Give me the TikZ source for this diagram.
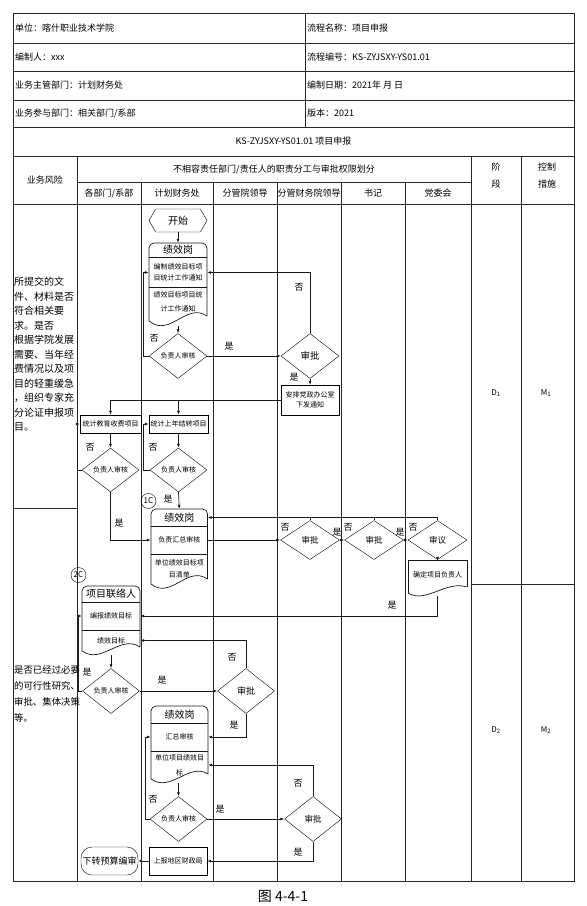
\documentclass[tikz,border=0pt]{standalone}
\usepackage{fontspec}
\setmainfont{Noto Sans CJK SC}
\usetikzlibrary{arrows.meta,shapes.geometric,shapes.symbols}
\definecolor{gridline}{gray}{0.15}
\definecolor{flowline}{gray}{0.1}
\tikzset{
  cell/.style={font=\fontsize{9}{11}\selectfont,anchor=west,inner sep=1pt},
  hcell/.style={font=\fontsize{9}{17}\selectfont,align=center,inner sep=0pt},
  lbl/.style={font=\fontsize{9}{10}\selectfont,inner sep=0pt},
  risk/.style={font=\fontsize{10}{14.5}\selectfont,align=left,anchor=north west,inner sep=0pt},
  hdr/.style={font=\fontsize{10}{12}\selectfont,align=center,inner sep=0pt},
  sect/.style={font=\fontsize{7}{12}\selectfont,align=center,inner sep=0pt},
  dec/.style={draw,diamond,aspect=1.3,inner sep=0pt,minimum width=57pt,minimum height=45pt,font=\fontsize{7}{9}\selectfont},
  proc/.style={draw,rectangle,inner sep=0pt,align=center,font=\fontsize{7}{10}\selectfont},
  term/.style={draw,signal,signal to=east and west,signal pointer angle=120,inner sep=0pt,minimum width=58pt,minimum height=23pt,font=\fontsize{10}{12}\selectfont},
  conn/.style={draw,circle,inner sep=0pt,minimum size=15pt,font=\fontsize{8}{9}\selectfont},
  grid/.style={gridline,line width=0.8pt},
  ln/.style={flowline,line width=0.7pt},
  arr/.style={ln,-{Latex[length=4pt,width=3pt]}},
}

\begin{document}
\begin{tikzpicture}[x=1pt,y=-1pt]
  \useasboundingbox (0,0) rectangle (587,906);
  % table
  \draw[grid] (13,13) rectangle (574,881);
  \foreach \yy in {43,71,100,127,156,204}
    \draw[grid] (13,\yy) -- (574,\yy);
  \draw[grid] (305,13) -- (305,127);
  \draw[grid] (77,156) -- (77,881);
  \foreach \xx in {141,213,277,341,405}
    \draw[grid] (\xx,182) -- (\xx,881);
  \draw[grid] (471,156) -- (471,881);
  \draw[grid] (521,156) -- (521,881);
  \draw[grid] (77,182) -- (471,182);
  \draw[grid] (13,508) -- (77,508);
  \draw[grid] (471,584) -- (574,584);
  \node[cell] (unit) at (14,28) {单位：喀什职业技术学院};
  \node[cell] (pname) at (306,28) {流程名称：项目申报};
  \node[cell] (author) at (14,57) {编制人：xxx};
  \node[cell] (pcode) at (306,57) {流程编号：KS-ZYJSXY-YS01.01};
  \node[cell] (dept) at (14,85.5) {业务主管部门：计划财务处};
  \node[cell] (pdate) at (306,85.5) {编制日期：2021年 月 日};
  \node[cell] (part) at (14,113.5) {业务参与部门：相关部门/系部};
  \node[cell] (ver) at (306,113.5) {版本：2021};
  \node[hcell] (title) at (293.5,141.5) {KS-ZYJSXY-YS01.01 项目申报};
  \node[hcell] (riskh) at (45,180) {业务风险};
  \node[hcell] (lanes) at (274,169) {不相容责任部门/责任人的职责分工与审批权限划分};
  \node[hcell] (lane1) at (109,193) {各部门/系部};
  \node[hcell] (lane2) at (177,193) {计划财务处};
  \node[hcell] (lane3) at (245,193) {分管院领导};
  \node[hcell] (lane4) at (309,193) {分管财务院领导};
  \node[hcell] (lane5) at (373,193) {书记};
  \node[hcell] (lane6) at (438,193) {党委会};
  \node[hcell] (stage) at (496,176) {阶\\段};
  \node[hcell] (ctrl) at (547,176) {控制\\措施};
  \node[risk] (risk1) at (14,277) {所提交的文\\件、材料是否\\符合相关要\\求。是否\\根据学院发展\\需要、当年经\\费情况以及项\\目的轻重缓急\\，组织专家充\\分论证申报项\\目。};
  \node[risk,font=\fontsize{9.4}{16}\selectfont] (risk2) at (14,665) {是否已经过必要\\的可行性研究、\\审批、集体决策\\等。};
  \node[lbl,font=\fontsize{8}{9}\selectfont] (d1) at (496,393) {D\textsubscript{1}};
  \node[lbl,font=\fontsize{8}{9}\selectfont] (m1) at (546,393) {M\textsubscript{1}};
  \node[lbl,font=\fontsize{8}{9}\selectfont] (d2) at (496,730) {D\textsubscript{2}};
  \node[lbl,font=\fontsize{8}{9}\selectfont] (m2) at (546,730) {M\textsubscript{2}};
  % stage 1
  \node[term] (start) at (178,220.5) {开始};
  \draw[ln,rounded corners=5pt] (149,321) -- (149,243) -- (207,243) -- (207,316);
  \draw[ln] (149,321) .. controls (170,338) and (186,302) .. (207,316);
  \draw[ln] (149,257) -- (207,257);
  \draw[ln] (149,287) -- (207,287);
  \node[hdr,minimum width=58pt,minimum height=14pt] (jx1-h) at (178,250) {绩效岗};
  \node[sect,minimum width=58pt,minimum height=28pt,font=\fontsize{7}{11}\selectfont] (jx1-a) at (178,272.5) {编制绩效目标项\\目统计工作通知};
  \node[sect,minimum width=58pt,font=\fontsize{7}{14}\selectfont] (jx1-b) at (178,302) {绩效目标项目统\\计工作通知};
  \coordinate (jx1-w) at (178,326);
  \draw[arr] (start.south) -- (jx1-h.north);
  \node[dec,minimum width=58pt] (chk1) at (178,356) {负责人审核};
  \draw[arr] (jx1-w) -- (chk1.north);
  \draw[arr] (chk1.west) -- ++(-5,0) |- (jx1-a.west);
  \node[lbl] at (154,338) {否};
  \node[dec,minimum width=58pt,font=\fontsize{9.5}{11}\selectfont] (apv1) at (310,356) {审批};
  \draw[arr] (chk1.east) -- (apv1.west);
  \node[lbl] at (229,346) {是};
  \draw[arr] (apv1.north) |- (jx1-a.east);
  \node[lbl] at (299,287) {否};
  \node[proc,minimum width=58pt,minimum height=30pt] (notice) at (310,400) {安排党政办公室\\下发通知};
  \draw[arr] (apv1.south) -- (notice.north);
  \node[lbl] at (294,377) {是};
  \node[proc,minimum width=61pt,minimum height=18pt] (fee) at (110.5,424) {统计教育收费项目};
  \node[proc,minimum width=59pt,minimum height=18pt] (carry) at (178.5,424) {统计上年结转项目};
  \coordinate (fork) at (carry.north |- notice.west);
  \draw[arr] (notice.west) -| (fee.north);
  \draw[arr] (fork) -- (carry.north);
  \node[dec,minimum height=44pt] (chk2) at (110.5,470) {负责人审核};
  \node[dec,minimum height=44pt] (chk3) at (178.5,470) {负责人审核};
  \draw[arr] (fee.south) -- (chk2.north);
  \draw[arr] (carry.south) -- (chk3.north);
  \draw[arr] (chk2.west) -- ++(-4,0) |- (fee.west);
  \node[lbl] at (90,447) {否};
  \draw[arr] (chk3.west) -- ++(-6,0) |- (carry.west);
  \node[lbl] at (153,447) {否};
  \node[conn] (c1) at (148.5,501) {1C};
  \draw[ln,rounded corners=5pt] (151,584) -- (151,509) -- (207.5,509) -- (207.5,579);
  \draw[ln] (151,584) .. controls (171,600) and (187,565) .. (207.5,579);
  \draw[ln] (151,526) -- (207.5,526);
  \draw[ln] (151,554) -- (207.5,554);
  \node[hdr,minimum width=56.5pt,minimum height=17pt] (jx2-h) at (179.25,517.5) {绩效岗};
  \node[sect,minimum width=56.5pt,minimum height=28pt] (jx2-a) at (179.25,540) {负责汇总审核};
  \node[sect,minimum width=56.5pt] (jx2-b) at (179.25,569) {单位绩效目标项\\目清单};
  \draw[arr] (chk3.south) -- (jx2-h.north);
  \node[lbl] at (168,499) {是};
  \draw[arr] (chk2.south) |- (jx2-a.west);
  \node[lbl] at (119,523) {是};
  \node[dec,minimum width=59pt,minimum height=39pt,font=\fontsize{8.5}{10}\selectfont] (apv2) at (310,540) {审批};
  \node[dec,minimum width=59pt,minimum height=39pt,font=\fontsize{8.5}{10}\selectfont] (apv3) at (374,540) {审批};
  \node[dec,minimum width=59pt,minimum height=39pt,font=\fontsize{8.5}{10}\selectfont] (meet) at (437.5,540) {审议};
  \draw[arr] (jx2-a.east) -- (apv2.west);
  \draw[arr] (apv2.east) -- (apv3.west);
  \draw[arr] (apv3.east) -- (meet.west);
  \draw[arr] (meet.north) |- (jx2-h.east);
  \draw[ln] (apv2.north) -- (apv2.north |- jx2-h.east);
  \draw[ln] (apv3.north) -- (apv3.north |- jx2-h.east);
  \node[lbl] at (285,527) {否};
  \node[lbl] at (348,527) {否};
  \node[lbl] at (413,527) {否};
  \node[lbl] at (337,532) {是};
  \node[lbl] at (400,532) {是};
  \draw[ln] (408,593) -- (408,560) -- (467,560) -- (467,587);
  \draw[ln] (408,593) .. controls (426,604) and (446,580) .. (467,587);
  \node[sect,minimum width=59pt,minimum height=28pt] (lead) at (437.5,575) {确定项目负责人};
  \draw[arr] (meet.south) -- (lead.north);
  \coordinate (lead-w) at (437.5,596);
  % stage 2
  \node[conn] (c2) at (78.5,575) {2C};
  \draw[ln,rounded corners=5pt] (82,651) -- (82,586) -- (140,586) -- (140,647);
  \draw[ln] (82,651) .. controls (102,665) and (120,634) .. (140,647);
  \draw[ln] (82,602) -- (140,602);
  \draw[ln] (82,630) -- (140,630);
  \node[hdr,minimum width=58pt,minimum height=16pt] (xm1-h) at (111,594) {项目联络人};
  \node[sect,minimum width=58pt,minimum height=28pt] (xm1-a) at (111,616) {编报绩效目标};
  \node[sect,minimum width=58pt,minimum height=21pt] (xm1-b) at (111,640.5) {绩效目标};
  \draw[arr] (lead-w) |- (xm1-a.east);
  \node[lbl] at (392,605) {是};
  \coordinate (xm1-w) at (111,655);
  \node[dec] (chk4) at (111,691) {负责人审核};
  \draw[arr] (xm1-w) -- (chk4.north);
  \draw[arr] (chk4.west) -- ++(-4,0) |- (xm1-a.west);
  \node[lbl] at (87,672) {是};
  \node[dec,font=\fontsize{9}{11}\selectfont] (apv4) at (246,691) {审批};
  \draw[arr] (chk4.east) -- (apv4.west);
  \node[lbl] at (162,680) {是};
  \draw[arr] (apv4.north) |- (xm1-b.east);
  \node[lbl] at (232,657) {否};
  \draw[ln,rounded corners=5pt] (151,779) -- (151,706) -- (208,706) -- (208,774);
  \draw[ln] (151,779) .. controls (171,793) and (189,762) .. (208,774);
  \draw[ln] (151,723) -- (208,723);
  \draw[ln] (151,751) -- (208,751);
  \node[hdr,minimum width=57pt,minimum height=17pt] (jx3-h) at (179.5,714.5) {绩效岗};
  \node[sect,minimum width=57pt,minimum height=28pt] (jx3-a) at (179.5,737) {汇总审核};
  \node[sect,minimum width=57pt,minimum height=27pt,font=\fontsize{7}{15}\selectfont] (jx3-b) at (179.5,765) {单位项目绩效目\\标};
  \draw[arr] (apv4.south) |- (jx3-a.east);
  \node[lbl] at (234,725) {是};
  \coordinate (jx3-w) at (178.5,783);
  \node[dec] (chk5) at (178.5,819) {负责人审核};
  \draw[arr] (jx3-w) -- (chk5.north);
  \draw[arr] (chk5.west) -- ++(-4,0) |- (jx3-a.west);
  \node[lbl] at (153,799) {否};
  \node[dec,font=\fontsize{8.5}{10}\selectfont] (apv5) at (313,819) {审批};
  \draw[arr] (chk5.east) -- (apv5.west);
  \node[lbl] at (220,809) {是};
  \draw[arr] (apv5.north) |- (jx3-b.east);
  \node[lbl] at (298,783) {否};
  \node[proc,minimum width=58pt,minimum height=28pt] (report) at (178,861) {上报地区财政局};
  \draw[arr] (apv5.south) |- (report.east);
  \node[lbl] at (298,852) {是};
  \node[draw,rounded corners=11pt,minimum width=57pt,minimum height=28pt,inner sep=0pt,font=\fontsize{9}{11}\selectfont] (tobudget) at (109.5,861) {下转预算编审};
  \draw[arr] (report.west) -- (tobudget.east);
  \node[font=\fontsize{14}{16}\selectfont] (fig) at (283,896) {图 4-4-1};
\end{tikzpicture}
\end{document}
